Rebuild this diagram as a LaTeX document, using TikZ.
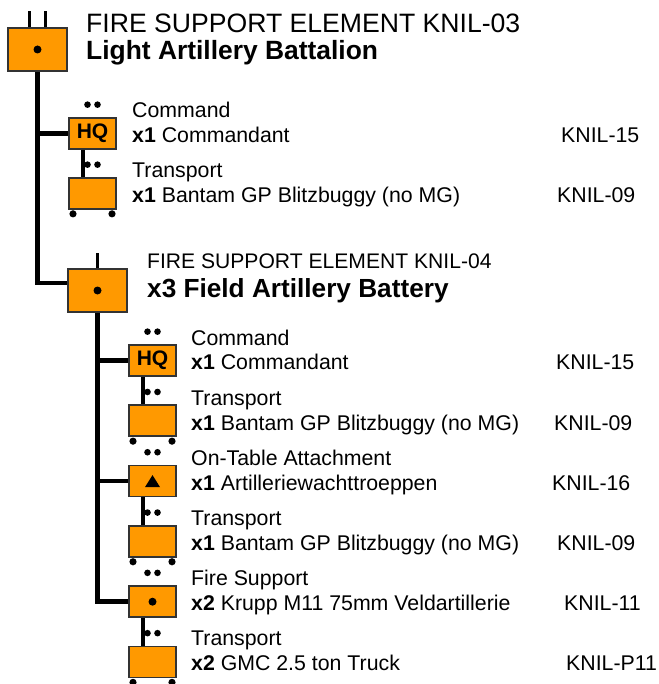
\documentclass[tikz,border=0pt]{standalone}
\usepackage{fontspec}
\setmainfont{Liberation Sans}
\usetikzlibrary{positioning}

\definecolor{unitorange}{HTML}{FF9900}

% two small dots above a unit box, wheels below a transport box
\newcommand{\pips}[1]{%
  \fill ([shift={(-5,-12.5)}]#1.north) circle (3.3pt);
  \fill ([shift={(5,-12.5)}]#1.north) circle (3.3pt);}
\newcommand{\wheels}[1]{%
  \fill ([shift={(-19.5,4)}]#1.south) circle (3.6pt);
  \fill ([shift={(19.5,4)}]#1.south) circle (3.6pt);}

\begin{document}
\begin{tikzpicture}[x=1pt, y=-1pt,
      unit/.style={draw=black!80, line width=1.7pt, fill=unitorange,
                   minimum width=59pt, minimum height=43pt, inner sep=0pt},
      sub/.style={unit, minimum width=47pt, minimum height=31pt,
                  font=\fontsize{21}{21}\selectfont\bfseries},
      tree/.style={line width=4.5pt},
      link/.style={line width=4pt},
      tick/.style={line width=3.5pt},
      head/.style={anchor=base west, inner sep=0pt, font=\fontsize{26.6}{30}\selectfont},
      bhead/.style={head, font=\fontsize{26.4}{30}\selectfont\bfseries},
      lbl/.style={anchor=base west, inner sep=0pt, font=\fontsize{21.3}{25}\selectfont}]

    \useasboundingbox (0,0) rectangle (658,684);

    % ---- Layout ----
    \def\cA{92.5}     % top section box column
    \def\cB{152.5}    % battery section box column
    \def\tA{132}      % top section text x
    \def\tB{191}      % battery section text x

    % ---- Battalion ----
    \node[unit] (bn) at (37.5,49.5) {};
    \fill (bn) circle (4pt);
    \draw[tick] ([xshift=-8pt]bn.north) -- ++(0,-16);
    \draw[tick] ([xshift=8pt]bn.north) -- ++(0,-16);
    \node[head] (hdA1) at (86,33) {FIRE SUPPORT ELEMENT KNIL-03};
    \node[bhead] (hdA2) at (86,60) {Light Artillery Battalion};

    \node[sub] (hqA) at (\cA,133.5) {HQ};
    \node[sub] (trA) at (\cA,193.5) {};
    \pips{hqA} \pips{trA} \wheels{trA}
    \draw[link] ([xshift=-9.5pt]hqA.south) -- ([xshift=-9.5pt]trA.north);

    \node[lbl] (rlA1) at (\tA,118) {Command};
    \node[lbl] (itA1) at (\tA,143) {\textbf{x1} Commandant};
    \node[lbl] (kdA1) at (561,143) {KNIL-15};
    \node[lbl] (rlA2) at (\tA,178) {Transport};
    \node[lbl] (itA2) at (\tA,203) {\textbf{x1} Bantam GP Blitzbuggy (no MG)};
    \node[lbl] (kdA2) at (557,203) {KNIL-09};

    % ---- Battery ----
    \node[unit] (bty) at (97.5,290.5) {};
    \fill (bty) circle (4pt);
    \draw[tick] (bty.north) -- ++(0,-15);
    \node[lbl, font=\fontsize{21.1}{25}\selectfont] (hdB1) at (147,269) {FIRE SUPPORT ELEMENT KNIL-04};
    \node[bhead, font=\fontsize{26.2}{30}\selectfont\bfseries] (hdB2) at (147,297) {x3 Field Artillery Battery};

    \draw[tree] (bn.south) |- ([yshift=7.5pt]bty.west);
    \draw[tree] (bn.south |- hqA.west) -- (hqA.west);

    \node[sub] (hqB) at (\cB,360.5) {HQ};
    \node[sub] (trB) at (\cB,420.8) {};
    \node[sub] (ota) at (\cB,481.1) {};
    \node[sub] (trC) at (\cB,541.4) {};
    \node[sub] (fsp) at (\cB,601.7) {};
    \node[sub] (trD) at (\cB,662) {};
    \fill ([shift={(-7.5,6)}]ota.center) -- ++(15,0) -- ++(-7.5,-12) -- cycle;
    \fill (fsp) circle (4pt);
    \pips{hqB} \pips{trB} \pips{ota} \pips{trC} \pips{fsp} \pips{trD}
    \wheels{trB} \wheels{trC} \wheels{trD}

    \draw[tree] (bty.south) |- (fsp.west);
    \draw[tree] (bty.south |- hqB.west) -- (hqB.west);
    \draw[tree] (bty.south |- ota.west) -- (ota.west);
    \draw[link] ([xshift=-9.5pt]hqB.south) -- ([xshift=-9.5pt]trB.north);
    \draw[link] ([xshift=-9.5pt]ota.south) -- ([xshift=-9.5pt]trC.north);
    \draw[link] ([xshift=-9.5pt]fsp.south) -- ([xshift=-9.5pt]trD.north);

    \node[lbl] (rlB1) at (\tB,345) {Command};
    \node[lbl] (itB1) at (\tB,369) {\textbf{x1} Commandant};
    \node[lbl] (kdB1) at (556,369) {KNIL-15};
    \node[lbl] (rlB2) at (\tB,405) {Transport};
    \node[lbl] (itB2) at (\tB,430) {\textbf{x1} Bantam GP Blitzbuggy (no MG)};
    \node[lbl] (kdB2) at (554,430) {KNIL-09};
    \node[lbl] (rlB3) at (\tB,465) {On-Table Attachment};
    \node[lbl] (itB3) at (\tB,490) {\textbf{x1} Artilleriewachttroeppen};
    \node[lbl] (kdB3) at (552,490) {KNIL-16};
    \node[lbl] (rlB4) at (\tB,525) {Transport};
    \node[lbl] (itB4) at (\tB,550) {\textbf{x1} Bantam GP Blitzbuggy (no MG)};
    \node[lbl] (kdB4) at (557,550) {KNIL-09};
    \node[lbl] (rlB5) at (\tB,585) {Fire Support};
    \node[lbl] (itB5) at (\tB,610) {\textbf{x2} Krupp M11 75mm Veldartillerie};
    \node[lbl] (kdB5) at (564,610) {KNIL-11};
    \node[lbl] (rlB6) at (\tB,645) {Transport};
    \node[lbl] (itB6) at (\tB,670) {\textbf{x2} GMC 2.5 ton Truck};
    \node[lbl] (kdB6) at (566,670) {KNIL-P11};

\end{tikzpicture}
\end{document}
